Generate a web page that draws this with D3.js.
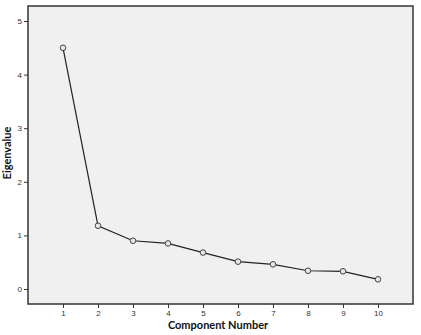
<!DOCTYPE html>
<html><head><meta charset="utf-8">
<script src="https://cdn.jsdelivr.net/npm/d3@7"></script>
<style>body{margin:0;background:#fff}svg{display:block}</style>
</head><body>
<svg id="c" width="421" height="335"></svg>
<script>
const components = [1,2,3,4,5,6,7,8,9,10];
const eigenvalues = [4.50,1.18,0.90,0.85,0.68,0.51,0.46,0.34,0.33,0.18];
const xTicks = [1,2,3,4,5,6,7,8,9,10];
const yTicks = [0,1,2,3,4,5];

const svg = d3.select("#c");
const L=28, R=413, T=6, B=304;
const x = d3.scaleLinear().domain([0,11]).range([L,R]);
const y = d3.scaleLinear().domain([-0.28,5.28]).range([B,T]);

svg.append("rect").attr("x",L).attr("y",T).attr("width",R-L).attr("height",B-T)
  .attr("fill","#f0f0f0").attr("stroke","#333").attr("stroke-width",1.5);

const yAx = svg.append("g").attr("transform",`translate(${L},0)`)
  .call(d3.axisLeft(y).tickValues(yTicks).tickSize(4).tickPadding(2).tickFormat(d3.format("d")));
yAx.select(".domain").remove();
const xAx = svg.append("g").attr("transform",`translate(0,${B})`)
  .call(d3.axisBottom(x).tickValues(xTicks).tickSize(4).tickPadding(2).tickFormat(d3.format("d")));
xAx.select(".domain").remove();
svg.selectAll(".tick line").attr("stroke","#333");
svg.selectAll(".tick text").attr("fill","#333").style("font-family","Liberation Sans, Arial, sans-serif").style("font-size","8px");

const line = d3.line().x((d,i)=>x(components[i])).y(d=>y(d));
svg.append("path").datum(eigenvalues).attr("d",line).attr("fill","none")
  .attr("stroke","#222").attr("stroke-width",1.2);
svg.selectAll("circle.pt").data(eigenvalues).join("circle").attr("class","pt")
  .attr("cx",(d,i)=>x(components[i])).attr("cy",d=>y(d)).attr("r",2.8)
  .attr("fill","#e6e6e6").attr("stroke","#444").attr("stroke-width",1);

svg.append("text").attr("x",218).attr("y",329).attr("text-anchor","middle")
  .style("font-family","Lato, 'Open Sans', sans-serif").style("font-weight","bold").style("font-size","11px")
  .attr("fill","#111").text("Component Number");
svg.append("text").attr("transform","translate(11,153) rotate(-90)").attr("text-anchor","middle")
  .style("font-family","Lato, 'Open Sans', sans-serif").style("font-weight","bold").style("font-size","11px")
  .attr("fill","#111").text("Eigenvalue");
</script>
</body></html>
